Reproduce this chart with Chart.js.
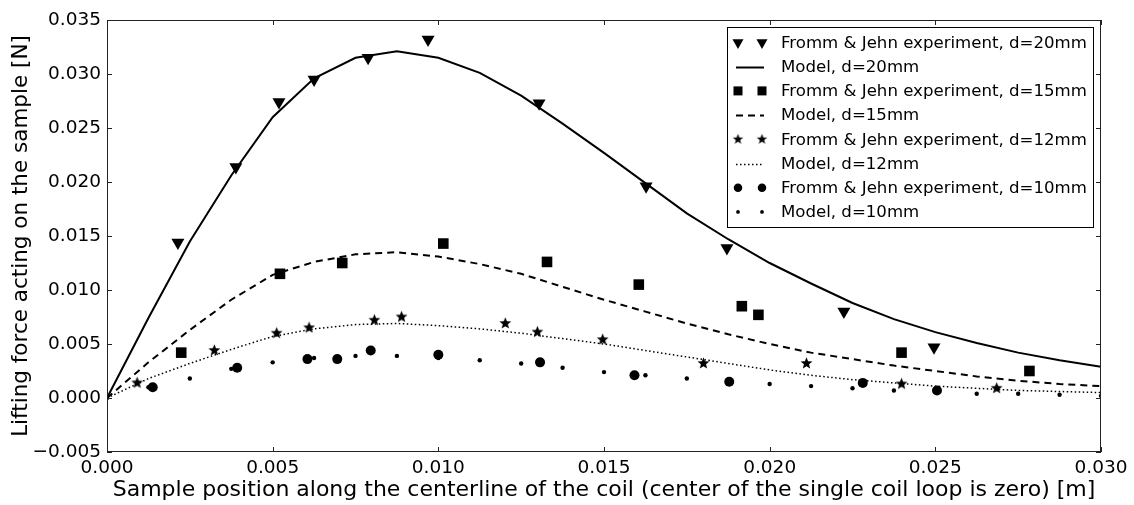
<!DOCTYPE html>
<html>
<head>
<meta charset="utf-8">
<script src="https://cdn.jsdelivr.net/npm/chart.js@4/dist/chart.umd.min.js"></script>
<style>
  html, body { margin: 0; padding: 0; background: #fff; }
  canvas { display: block; }
</style>
</head>
<body>
<canvas id="force-chart" width="1134" height="505"></canvas>
<script>
// positions along the coil axis [m] where the model was evaluated
const modelX = [0, 0.00125, 0.0025, 0.00375, 0.005, 0.00625, 0.0075, 0.00875, 0.01, 0.01125,
  0.0125, 0.01375, 0.015, 0.01625, 0.0175, 0.01875, 0.02, 0.02125, 0.0225, 0.02375,
  0.025, 0.02625, 0.0275, 0.02875, 0.03];

// model lifting force [N]
const model20 = [0, 0.0074, 0.0145, 0.0206, 0.0260, 0.0296, 0.0315, 0.0321, 0.0315, 0.0301,
  0.0280, 0.0254, 0.0227, 0.0199, 0.0171, 0.0147, 0.0125, 0.0106, 0.0088, 0.0073,
  0.0061, 0.0051, 0.0042, 0.0035, 0.0029];
const model15 = [0, 0.0033, 0.0063, 0.0091, 0.0114, 0.0126, 0.0133, 0.0135, 0.0131, 0.0124,
  0.0115, 0.0103, 0.0091, 0.0080, 0.0069, 0.0059, 0.0050, 0.0042, 0.0036, 0.0030,
  0.0025, 0.0020, 0.0016, 0.0013, 0.0011];
const model12 = [0, 0.0018, 0.0032, 0.0045, 0.0057, 0.0064, 0.0068, 0.0069, 0.0067, 0.0064,
  0.0060, 0.0055, 0.0050, 0.0044, 0.0038, 0.0032, 0.0026, 0.0021, 0.0017, 0.0014,
  0.0011, 0.0009, 0.0007, 0.0006, 0.0005];
const model10 = [0, 0.0010, 0.0018, 0.0027, 0.0033, 0.0037, 0.0039, 0.0039, 0.0037, 0.0035,
  0.0032, 0.0028, 0.0024, 0.0021, 0.0018, 0.0015, 0.0013, 0.0011, 0.0009, 0.0007,
  0.0006, 0.0004, 0.0004, 0.0003, 0.0002];

// Fromm & Jehn measurements
const exp20X = [0.00214, 0.00389, 0.00519, 0.00625, 0.00788, 0.00969, 0.01304, 0.01627, 0.01871, 0.02224, 0.02496];
const exp20Y = [0.0144, 0.0214, 0.0274, 0.0295, 0.0315, 0.0332, 0.0273, 0.0196, 0.0139, 0.0080, 0.0047];
const exp15X = [0.00224, 0.00522, 0.00710, 0.01015, 0.01328, 0.01605, 0.01916, 0.01966, 0.02398, 0.02784];
const exp15Y = [0.0042, 0.0115, 0.0125, 0.0143, 0.0126, 0.0105, 0.0085, 0.0077, 0.0042, 0.0025];
const exp12X = [0.00091, 0.00324, 0.00512, 0.00610, 0.00807, 0.00889, 0.01202, 0.01299, 0.01496, 0.01800, 0.02111, 0.02398, 0.02685];
const exp12Y = [0.0014, 0.0044, 0.0060, 0.0065, 0.0072, 0.0075, 0.0069, 0.0061, 0.0054, 0.0032, 0.0032, 0.0013, 0.0009];
const exp10X = [0.00138, 0.00393, 0.00605, 0.00695, 0.00796, 0.01000, 0.01307, 0.01592, 0.01878, 0.02281, 0.02505];
const exp10Y = [0.0010, 0.0028, 0.0036, 0.0036, 0.0044, 0.0040, 0.0033, 0.0021, 0.0015, 0.0014, 0.0007];

const legendLabels = [
  'Fromm & Jehn experiment, d=20mm',
  'Model, d=20mm',
  'Fromm & Jehn experiment, d=15mm',
  'Model, d=15mm',
  'Fromm & Jehn experiment, d=12mm',
  'Model, d=12mm',
  'Fromm & Jehn experiment, d=10mm',
  'Model, d=10mm',
];

const xTitle = 'Sample position along the centerline of the coil (center of the single coil loop is zero) [m]';
const yTitle = 'Lifting force acting on the sample [N]';

const FONT = 'DejaVu Sans';
const zip = (xs, ys) => xs.map((x, i) => ({ x, y: ys[i] }));

// filled five-pointed star, Chart.js only has the stroked one
function makeStar(outer, inner) {
  const size = Math.ceil(outer * 2 + 2);
  const c = document.createElement('canvas');
  c.width = size; c.height = size;
  const g = c.getContext('2d');
  g.translate(size / 2, size / 2);
  g.beginPath();
  for (let i = 0; i < 10; i++) {
    const r = i % 2 === 0 ? outer : inner;
    const a = -Math.PI / 2 + i * Math.PI / 5;
    g.lineTo(r * Math.cos(a), r * Math.sin(a));
  }
  g.closePath();
  g.fillStyle = '#000';
  g.fill();
  return c;
}
const starImg = makeStar(6.2, 2.7);
const starSmall = makeStar(5.5, 2.3);

const datasets = [
  { data: zip(exp20X, exp20Y), showLine: false, pointStyle: 'triangle', rotation: 180, pointRadius: 7.5,
    backgroundColor: '#000', borderColor: '#000', borderWidth: 0 },
  { data: zip(modelX, model20), showLine: true, pointRadius: 0, borderColor: '#000', borderWidth: 2 },
  { data: zip(exp15X, exp15Y), showLine: false, pointStyle: 'rect', pointRadius: 7.5,
    backgroundColor: '#000', borderColor: '#000', borderWidth: 0 },
  { data: zip(modelX, model15), showLine: true, pointRadius: 0, borderColor: '#000', borderWidth: 2, borderDash: [7, 5] },
  { data: zip(exp12X, exp12Y), showLine: false, pointStyle: starImg, pointRadius: 6 },
  { data: zip(modelX, model12), showLine: true, pointRadius: 0, borderColor: '#000', borderWidth: 1.5, borderDash: [1.5, 2.5] },
  { data: zip(exp10X, exp10Y), showLine: false, pointStyle: 'circle', pointRadius: 5,
    backgroundColor: '#000', borderColor: '#000', borderWidth: 0 },
  { data: zip(modelX, model10), showLine: false, pointStyle: 'circle', pointRadius: 2.2,
    backgroundColor: '#000', borderColor: '#000', borderWidth: 0 },
];
// later series on top, like the plotting order
datasets.forEach((d, i) => { d.order = datasets.length - i; d.tension = 0; d.pointHoverRadius = d.pointRadius; });

const fmt = (v) => {
  const s = Math.abs(v).toFixed(3);
  return v < -1e-9 ? '\u2212' + s : s;
};

// frame, inward ticks on all four sides and the two-marker legend
const framePlugin = {
  id: 'framePlugin',
  afterDraw(chart) {
    const { ctx, chartArea: a, scales: { x, y } } = chart;
    const h = Chart.helpers;
    ctx.save();
    ctx.strokeStyle = '#222';
    ctx.lineWidth = 1;
    const seg = (x1, y1, x2, y2) => { ctx.beginPath(); ctx.moveTo(x1, y1); ctx.lineTo(x2, y2); ctx.stroke(); };
    const tl = 5;
    x.ticks.forEach(t => {
      const px = Math.round(x.getPixelForValue(t.value)) + 0.5;
      seg(px, a.bottom, px, a.bottom - tl);
      seg(px, a.top, px, a.top + tl);
    });
    y.ticks.forEach(t => {
      const py = Math.round(y.getPixelForValue(t.value)) + 0.5;
      seg(a.left, py, a.left + tl, py);
      seg(a.right, py, a.right - tl, py);
    });
    ctx.strokeRect(Math.round(a.left) + 0.5, Math.round(a.top) + 0.5, Math.round(a.width) - 1, Math.round(a.height) - 1);

    // legend box
    const bx = 727.5, by = 27.5, bw = 366, bh = 200;
    ctx.fillStyle = '#fff';
    ctx.fillRect(bx, by, bw, bh);
    ctx.strokeStyle = '#000';
    ctx.strokeRect(bx, by, bw, bh);
    const rowY0 = 42.5, rowStep = 24.2;
    const m1 = 738, m2 = 762;
    ctx.font = '16.6px "' + FONT + '"';
    ctx.textBaseline = 'middle';
    ctx.textAlign = 'left';
    legendLabels.forEach((label, i) => {
      const ry = rowY0 + i * rowStep;
      const ds = datasets[i];
      ctx.fillStyle = '#000';
      ctx.strokeStyle = '#000';
      if (ds.showLine) {
        ctx.lineWidth = ds.borderWidth;
        ctx.setLineDash(ds.borderDash || []);
        seg(736, Math.round(ry) + 0.5, 764, Math.round(ry) + 0.5);
        ctx.setLineDash([]);
      } else {
        [m1, m2].forEach(mx => h.drawPoint(ctx, {
          pointStyle: ds.pointStyle === starImg ? starSmall : ds.pointStyle,
          radius: ds.pointRadius * 0.85,
          rotation: ds.rotation || 0, borderWidth: 0
        }, mx, ry));
      }
      ctx.fillStyle = '#000';
      ctx.fillText(label, 781, ry + 1);
    });
    ctx.restore();
  }
};

new Chart(document.getElementById('force-chart'), {
  type: 'scatter',
  data: { datasets },
  options: {
    responsive: false,
    animation: false,
    devicePixelRatio: 1,
    layout: { padding: { top: 20, right: 33, left: 0, bottom: 0 } },
    plugins: { legend: { display: false }, tooltip: { enabled: false } },
    scales: {
      x: {
        type: 'linear',
        min: 0,
        max: 0.03,
        afterFit: (s) => { s.height = 53; },
        grid: { display: false, drawTicks: false },
        border: { display: false },
        ticks: {
          stepSize: 0.005,
          padding: 5,
          color: '#000',
          font: { family: FONT, size: 18.5 },
          maxRotation: 0,
          callback: (v) => fmt(v),
        },
        title: {
          display: true,
          text: xTitle,
          color: '#000',
          font: { family: FONT, size: 22 },
          padding: { top: 0, bottom: 2 },
        },
      },
      y: {
        type: 'linear',
        min: -0.005,
        max: 0.035,
        afterFit: (s) => { s.width = 107; },
        grid: { display: false, drawTicks: false },
        border: { display: false },
        ticks: {
          stepSize: 0.005,
          padding: 6,
          color: '#000',
          font: { family: FONT, size: 18.5 },
          callback: (v) => fmt(v),
        },
        title: {
          display: true,
          text: yTitle,
          color: '#000',
          font: { family: FONT, size: 21.5 },
          padding: { top: 9, bottom: 0 },
        },
      },
    },
  },
  plugins: [framePlugin],
});
</script>
</body>
</html>
